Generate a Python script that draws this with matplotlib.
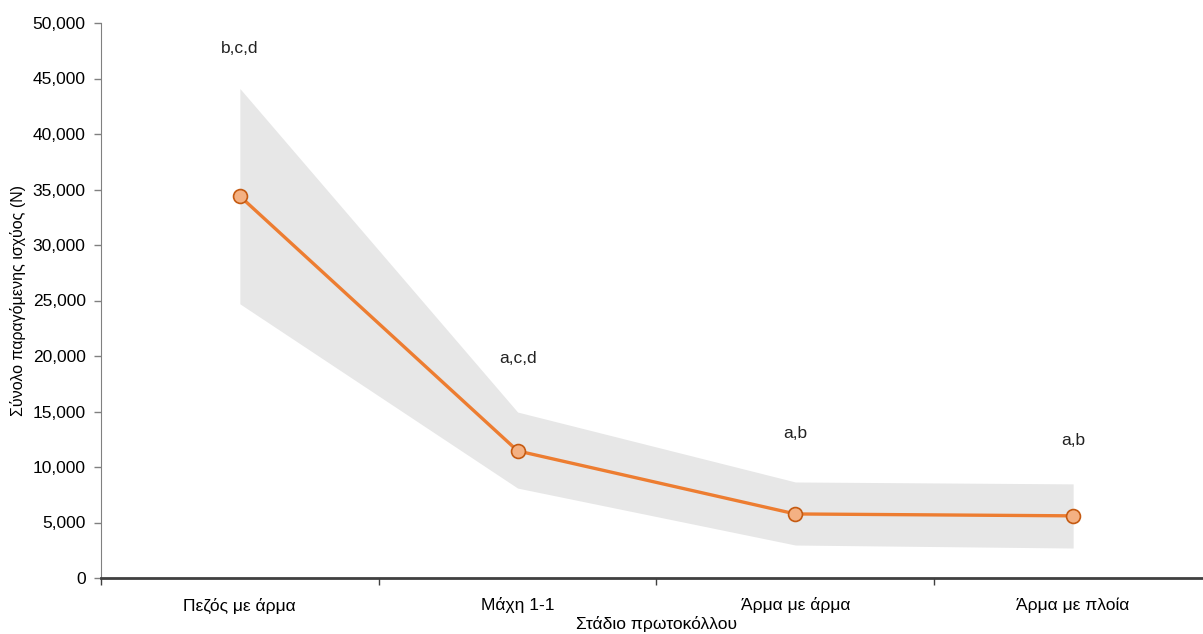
import numpy as np
import matplotlib.pyplot as plt
from matplotlib.ticker import FuncFormatter

plt.rcParams['font.family'] = ['Liberation Sans', 'DejaVu Sans']

# data
stages = ['Πεζός με άρμα', 'Μάχη 1-1', 'Άρμα με άρμα', 'Άρμα με πλοία']
mean_power = [34400, 11450, 5770, 5600]
upper = [44100, 14950, 8650, 8480]
lower = [24700, 8100, 2970, 2700]
sig_labels = ['b,c,d', 'a,c,d', 'a,b', 'a,b']
sig_y = [47700, 19800, 13000, 12400]

x = np.arange(len(stages))

fig = plt.figure(figsize=(12.03, 6.34), dpi=100)
# axis runs a bit past the right edge of the picture, as in the reference
ax = fig.add_axes([101/1203, 56/634, 1111/1203, 555/634])

ax.fill_between(x, lower, upper, color='#e7e7e7', linewidth=0, zorder=1)
ax.plot(x, mean_power, color='#ed7d31', linewidth=2.4, marker='o', markersize=10,
        markerfacecolor='#f4b183', markeredgecolor='#c55a11', markeredgewidth=1.2, zorder=3)

for xi, lab, yi in zip(x, sig_labels, sig_y):
    ax.text(xi, yi, lab, ha='center', va='center', fontsize=12.5, color='#222222')

ax.set_xlim(-0.5, len(stages) - 0.5)
ax.set_ylim(0, 50000)
ax.set_yticks(np.arange(0, 50001, 5000))
ax.yaxis.set_major_formatter(FuncFormatter(lambda v, p: f'{int(v):,}'))
ax.set_xticks(np.arange(-0.5, len(stages), 1.0))
ax.set_xticklabels([])
ax.set_xticks(x, minor=True)
ax.set_xticklabels(stages, minor=True)
ax.tick_params(axis='x', which='minor', length=0, pad=14, labelsize=12.5)
ax.tick_params(axis='x', which='major', length=5, width=1, color='#404040', direction='out')
ax.tick_params(axis='y', length=5, width=1, color='#808080', labelsize=12.5, pad=6)

ax.spines['top'].set_visible(False)
ax.spines['right'].set_visible(False)
ax.spines['left'].set_color('#808080')
ax.spines['bottom'].set_color('#404040')
ax.spines['bottom'].set_linewidth(2)

ax.set_ylabel('Σύνολο παραγόμενης ισχύος (N)', fontsize=11.5)
ax.yaxis.set_label_coords(-0.0675, 0.5)
ax.set_xlabel('Στάδιο πρωτοκόλλου', fontsize=12.5, labelpad=2)

fig.savefig('out.png', dpi=100)
